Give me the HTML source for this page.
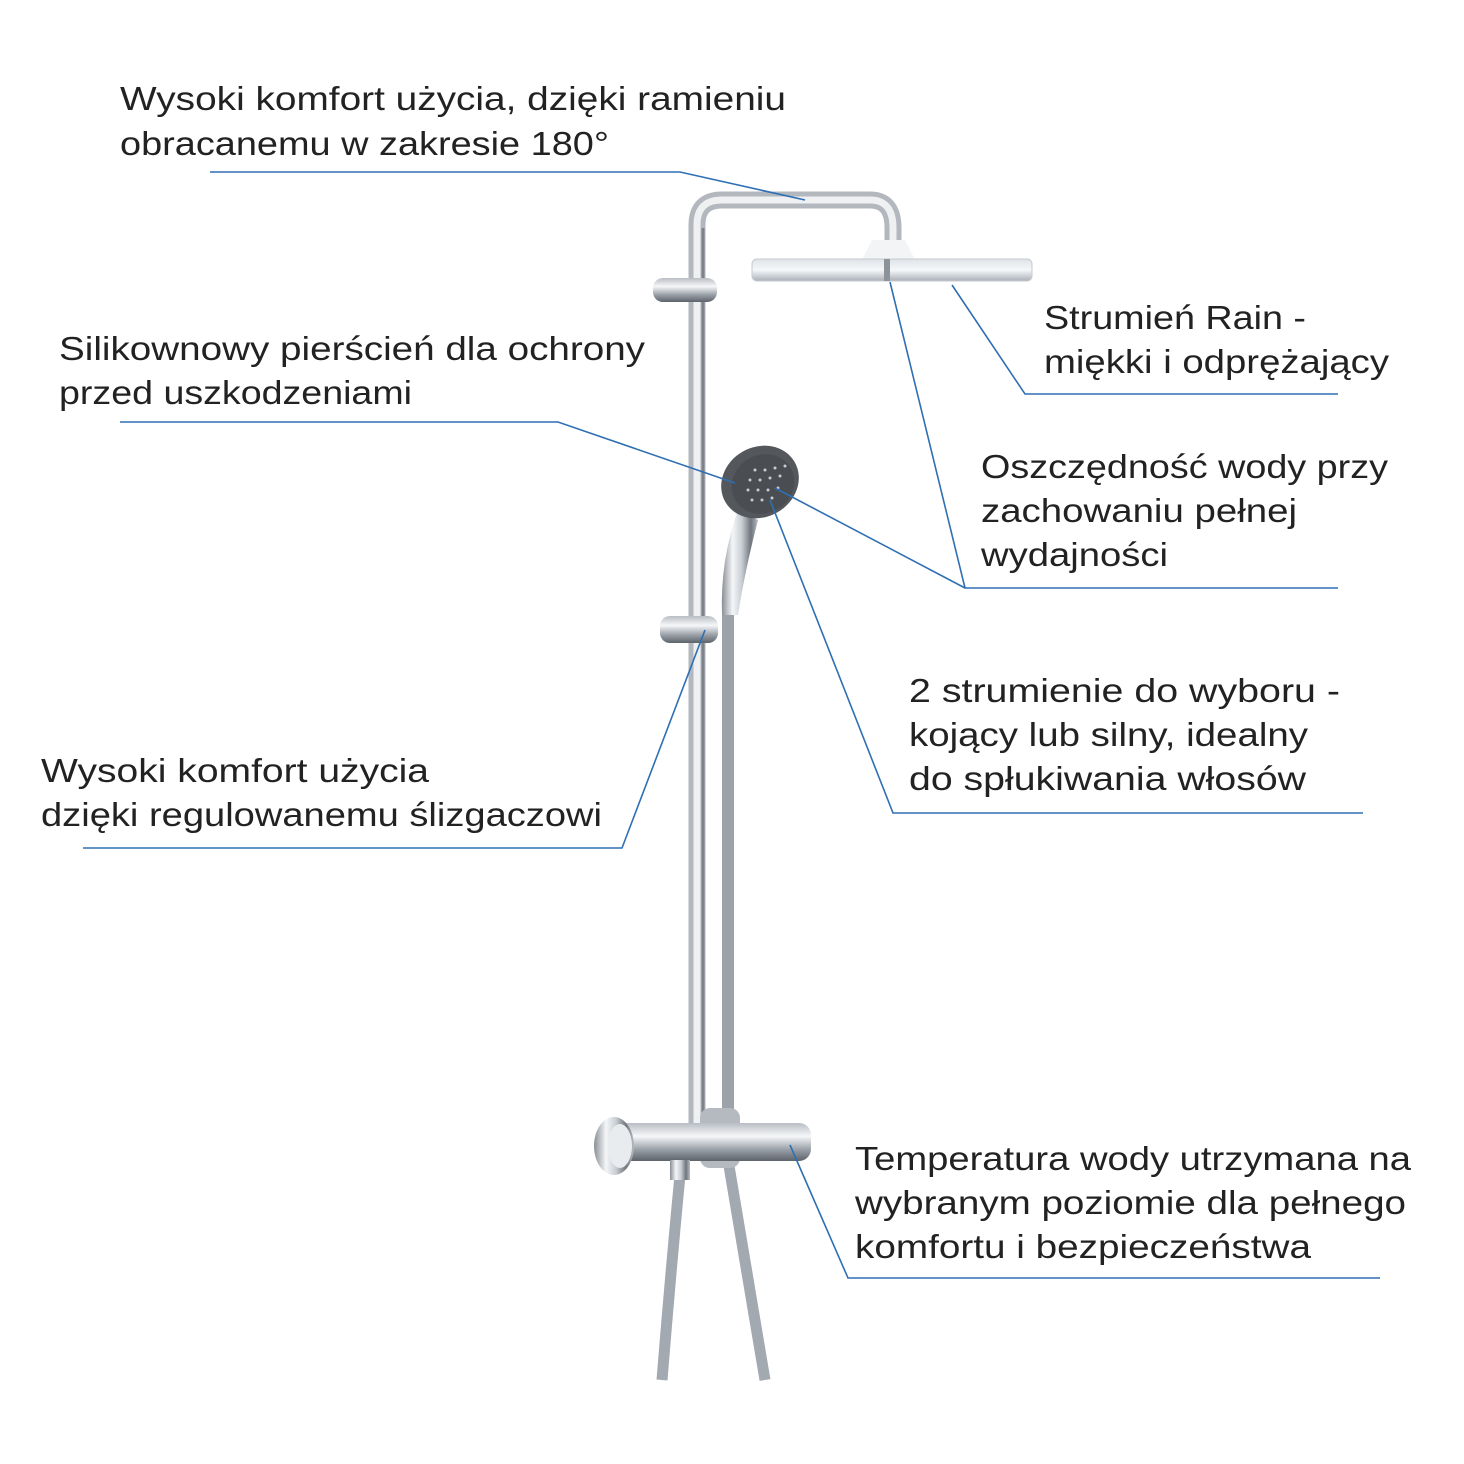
<!DOCTYPE html>
<html><head><meta charset="utf-8"><style>
html,body{margin:0;padding:0;background:#fff;}
svg{display:block;}
text{font-family:"Liberation Sans","DejaVu Sans",sans-serif;font-size:33px;fill:#222;}
</style></head><body>
<svg width="1464" height="1464" viewBox="0 0 1464 1464" xmlns="http://www.w3.org/2000/svg">
<defs>
<linearGradient id="chr" x1="0" x2="1" y1="0" y2="0">
<stop offset="0" stop-color="#8a8f96"/><stop offset="0.3" stop-color="#f4f6f8"/><stop offset="0.55" stop-color="#c9ced4"/><stop offset="0.8" stop-color="#6f757c"/><stop offset="1" stop-color="#b8bdc3"/>
</linearGradient>
<linearGradient id="chrv" x1="0" x2="0" y1="0" y2="1">
<stop offset="0" stop-color="#b9bec4"/><stop offset="0.35" stop-color="#f6f7f9"/><stop offset="0.7" stop-color="#9aa0a7"/><stop offset="1" stop-color="#5d636a"/>
</linearGradient>
<linearGradient id="head" x1="0" x2="0" y1="0" y2="1">
<stop offset="0" stop-color="#dfe3e8"/><stop offset="0.5" stop-color="#f5f7f9"/><stop offset="1" stop-color="#aab0b7"/>
</linearGradient>
</defs>
<!-- hoses -->
<path d="M728 612 L728 1120" stroke="#9ca2a9" stroke-width="12" fill="none"/>
<path d="M728 1160 Q745 1260 765 1380" stroke="#a3a9b0" stroke-width="11" fill="none"/>
<path d="M680 1175 Q670 1280 662 1380" stroke="#a3a9b0" stroke-width="11" fill="none"/>
<!-- rail and arm -->
<path d="M697 1130 L697 225 Q697 200 722 200 L870 200 Q893 200 893 228 L893 240" stroke="#b3b8be" stroke-width="17" fill="none"/>
<path d="M697 1130 L697 225 Q697 200 722 200 L870 200 Q893 200 893 228 L893 240" stroke="#eef0f2" stroke-width="7" fill="none"/>
<path d="M703 1130 L703 228" stroke="#7d838a" stroke-width="3" fill="none"/>
<!-- top bracket -->
<rect x="653" y="278" width="64" height="24" rx="10" fill="url(#chrv)"/>
<!-- shower head -->
<path d="M872 240 L905 240 L915 260 L862 260 Z" fill="#f2f4f6"/>
<rect x="752" y="259" width="280" height="22" rx="5" fill="url(#head)" stroke="#c5cad0"/>
<rect x="884" y="259" width="6" height="22" fill="#8d939a"/>
<!-- hand shower -->
<path d="M738 510 Q720 560 722 615 L738 615 Q745 570 758 520 Z" fill="url(#chr)"/>
<ellipse cx="760" cy="482" rx="40" ry="35" transform="rotate(-30 760 482)" fill="#54575c"/>
<ellipse cx="763" cy="484" rx="32" ry="29" transform="rotate(-30 763 484)" fill="#4a4d52"/>
<g fill="#c8cbcf">
<circle cx="755" cy="470" r="1.5"/><circle cx="765" cy="470" r="1.5"/><circle cx="775" cy="468" r="1.5"/><circle cx="750" cy="480" r="1.5"/><circle cx="760" cy="480" r="1.5"/><circle cx="770" cy="478" r="1.5"/><circle cx="780" cy="476" r="1.5"/><circle cx="748" cy="490" r="1.5"/><circle cx="758" cy="490" r="1.5"/><circle cx="768" cy="490" r="1.5"/><circle cx="778" cy="488" r="1.5"/><circle cx="752" cy="500" r="1.5"/><circle cx="762" cy="500" r="1.5"/><circle cx="772" cy="498" r="1.5"/><circle cx="785" cy="466" r="1.5"/>
</g>
<!-- slider -->
<rect x="660" y="616" width="58" height="27" rx="10" fill="url(#chrv)"/>
<!-- thermostat -->
<rect x="700" y="1108" width="40" height="60" rx="10" fill="#b5bac0"/>
<rect x="615" y="1123" width="196" height="38" rx="12" fill="url(#chrv)"/>
<ellipse cx="614" cy="1146" rx="20" ry="29" fill="url(#chr)"/>
<ellipse cx="620" cy="1146" rx="12" ry="22" fill="#e9ecef"/>
<rect x="670" y="1160" width="20" height="20" fill="url(#chr)"/>
<!-- connectors -->
<g stroke="#2f6fb3" stroke-width="1.6" fill="none">
<polyline points="210,172 680,172 805,200"/>
<polyline points="120,422 558,422 735,483"/>
<polyline points="1338,394 1025,394 952,285"/>
<polyline points="1338,588 965,588 890,282"/>
<polyline points="965,588 775,488"/>
<polyline points="1363,813 893,813 770,500"/>
<polyline points="83,848 622,848 705,630"/>
<polyline points="1380,1278 848,1278 790,1145"/>
</g>
<!-- labels -->
<text x="120" y="110" textLength="666" lengthAdjust="spacingAndGlyphs">Wysoki komfort użycia, dzięki ramieniu</text>
<text x="120" y="155" textLength="489" lengthAdjust="spacingAndGlyphs">obracanemu w zakresie 180°</text>
<text x="59" y="360" textLength="586" lengthAdjust="spacingAndGlyphs">Silikownowy pierścień dla ochrony</text>
<text x="59" y="404" textLength="353" lengthAdjust="spacingAndGlyphs">przed uszkodzeniami</text>
<text x="1044" y="329" textLength="262" lengthAdjust="spacingAndGlyphs">Strumień Rain -</text>
<text x="1044" y="373" textLength="345" lengthAdjust="spacingAndGlyphs">miękki i odprężający</text>
<text x="981" y="478" textLength="407" lengthAdjust="spacingAndGlyphs">Oszczędność wody przy</text>
<text x="981" y="522" textLength="316" lengthAdjust="spacingAndGlyphs">zachowaniu pełnej</text>
<text x="981" y="566" textLength="187" lengthAdjust="spacingAndGlyphs">wydajności</text>
<text x="909" y="702" textLength="431" lengthAdjust="spacingAndGlyphs">2 strumienie do wyboru -</text>
<text x="909" y="746" textLength="399" lengthAdjust="spacingAndGlyphs">kojący lub silny, idealny</text>
<text x="909" y="790" textLength="397" lengthAdjust="spacingAndGlyphs">do spłukiwania włosów</text>
<text x="41" y="782" textLength="388" lengthAdjust="spacingAndGlyphs">Wysoki komfort użycia</text>
<text x="41" y="826" textLength="561" lengthAdjust="spacingAndGlyphs">dzięki regulowanemu ślizgaczowi</text>
<text x="855" y="1170" textLength="556" lengthAdjust="spacingAndGlyphs">Temperatura wody utrzymana na</text>
<text x="855" y="1214" textLength="551" lengthAdjust="spacingAndGlyphs">wybranym poziomie dla pełnego</text>
<text x="855" y="1258" textLength="456" lengthAdjust="spacingAndGlyphs">komfortu i bezpieczeństwa</text>
</svg>
</body></html>
